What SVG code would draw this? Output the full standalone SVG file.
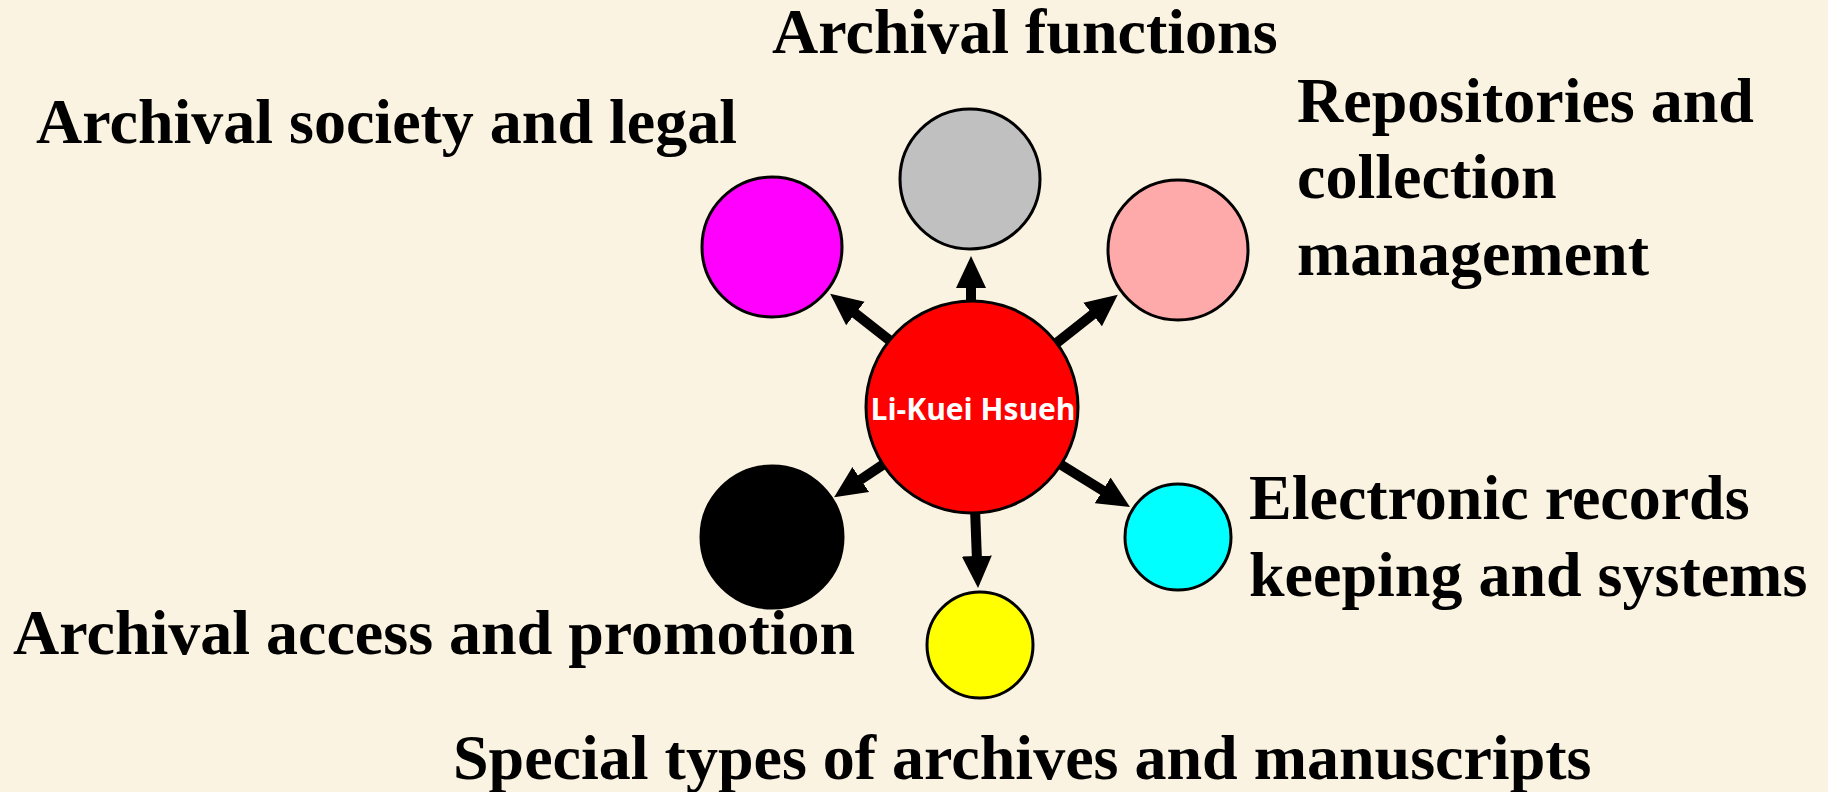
<svg xmlns="http://www.w3.org/2000/svg" width="1828" height="792" viewBox="0 0 1828 792">
<style>
.lbl{font-family:"Liberation Serif","Times New Roman",serif;font-weight:bold;font-size:64px;fill:#000}
.node{stroke:#000;stroke-width:3}
.conn{stroke:#000;stroke-width:10;fill:none}
.center{font-family:"Open Sans","Noto Sans",sans-serif;font-weight:bold;font-size:30px;fill:#fff}
</style>
<defs>
<marker id="ah" markerUnits="userSpaceOnUse" markerWidth="34" markerHeight="32" viewBox="0 0 34 32" refX="2" refY="16" orient="auto">
<path d="M0,1 L32,16 L0,31 z" fill="#000"/>
</marker>
</defs>
<rect width="1828" height="792" fill="#FBF3E1"/>
<g id="connectors">
<line class="conn" x1="971" y1="304" x2="971" y2="286" marker-end="url(#ah)"/>
<line class="conn" x1="893" y1="343" x2="853.8" y2="312.3" marker-end="url(#ah)"/>
<line class="conn" x1="1054" y1="345" x2="1094.2" y2="313.3" marker-end="url(#ah)"/>
<line class="conn" x1="884" y1="464" x2="859.1" y2="480.6" marker-end="url(#ah)"/>
<line class="conn" x1="1055" y1="461" x2="1104.4" y2="491.4" marker-end="url(#ah)"/>
<line class="conn" x1="975" y1="508" x2="976.9" y2="558" marker-end="url(#ah)"/>
</g>
<g id="node-center">
<circle class="node" cx="972" cy="407" r="106" fill="#FF0000"/>
<text class="center" x="973" y="420" text-anchor="middle">Li-Kuei Hsueh</text>
</g>
<g id="node-functions">
<circle class="node" cx="970" cy="179" r="70" fill="#C0C0C0"/>
<text class="lbl" x="772" y="53">Archival functions</text>
</g>
<g id="node-society">
<circle class="node" cx="772" cy="247" r="70" fill="#FF00FF"/>
<text class="lbl" x="36" y="143">Archival society and legal</text>
</g>
<g id="node-repositories">
<circle class="node" cx="1178" cy="250" r="70" fill="#FFAAAA"/>
<text class="lbl" x="1297" y="122">Repositories and</text>
<text class="lbl" x="1297" y="198">collection</text>
<text class="lbl" x="1297" y="275">management</text>
</g>
<g id="node-electronic">
<circle class="node" cx="1178" cy="537" r="53" fill="#00FFFF"/>
<text class="lbl" x="1249" y="519">Electronic records</text>
<text class="lbl" x="1249" y="596">keeping and systems</text>
</g>
<g id="node-special">
<circle class="node" cx="980" cy="645" r="53" fill="#FFFF00"/>
<text class="lbl" x="453" y="779">Special types of archives and manuscripts</text>
</g>
<g id="node-access">
<circle class="node" cx="772" cy="537" r="71" fill="#000000"/>
<text class="lbl" x="13" y="654">Archival access and promotion</text>
</g>
</svg>
